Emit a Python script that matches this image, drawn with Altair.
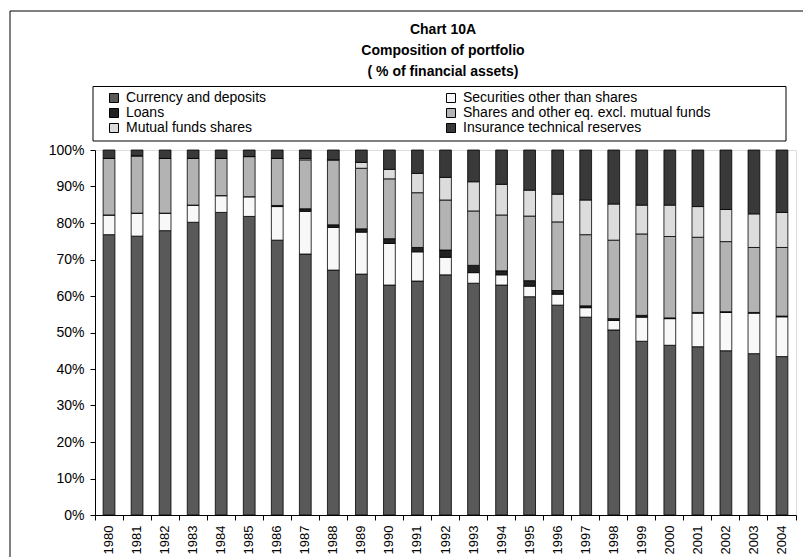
import altair as alt
import pandas as pd

years = [str(y) for y in range(1980, 2005)]
series = [
    "Currency and deposits",
    "Securities other than shares",
    "Loans",
    "Shares and other eq. excl. mutual funds",
    "Mutual funds shares",
    "Insurance technical reserves",
]
currency = [76.8, 76.4, 77.9, 80.2, 82.9, 81.8, 75.3, 71.5, 67.1, 66.0, 63.0, 64.1, 65.8,
            63.5, 63.0, 59.8, 57.5, 54.2, 50.7, 47.6, 46.5, 46.1, 45.0, 44.2, 43.4]
securities = [5.4, 6.3, 4.8, 4.7, 4.6, 5.4, 9.2, 11.7, 11.7, 11.5, 11.4, 8.0, 4.8,
              2.9, 2.8, 2.9, 3.0, 2.6, 2.6, 6.6, 7.3, 9.2, 10.5, 11.1, 10.9]
loans = [0, 0, 0, 0, 0, 0, 0.3, 0.7, 0.7, 0.9, 1.3, 1.2, 2.0,
         2.0, 1.1, 1.5, 1.0, 0.5, 0.5, 0.5, 0.2, 0.2, 0.2, 0.2, 0.2]
shares = [15.5, 15.7, 15.0, 12.8, 10.2, 11.0, 12.9, 13.4, 17.8, 16.6, 16.4, 15.0, 13.7,
          14.9, 15.3, 17.7, 18.8, 19.5, 21.5, 22.3, 22.3, 20.6, 19.2, 17.8, 18.8]
mutual = [0, 0, 0, 0, 0, 0, 0, 0.4, 0, 1.6, 2.6, 5.3, 6.2,
          8.0, 8.4, 7.1, 7.6, 9.5, 9.9, 7.9, 8.6, 8.4, 8.8, 9.2, 9.6]
insurance = [2.3, 1.6, 2.3, 2.3, 2.3, 1.8, 2.3, 2.3, 2.7, 3.4, 5.3, 6.4, 7.5,
             8.7, 9.4, 11.0, 12.1, 13.7, 14.8, 15.1, 15.1, 15.5, 16.3, 17.5, 17.1]
colors = ["#595959", "#f8f8f8", "#222222", "#b3b3b3", "#dcdcdc", "#393939"]
# legend fills column by column: left column Currency / Loans / Mutual funds
legend_order = [0, 2, 4, 1, 3, 5]
y_ticks = [0, 0.1, 0.2, 0.3, 0.4, 0.5, 0.6, 0.7, 0.8, 0.9, 1.0]
title_lines = ["Chart 10A", "Composition of portfolio", "( % of financial assets)"]

values = [currency, securities, loans, shares, mutual, insurance]
rows = []
for i, s in enumerate(series):
    for yr, v in zip(years, values[i]):
        rows.append({"year": yr, "series": s, "idx": i, "value": v})
df = pd.DataFrame(rows)

leg_domain = [series[i] for i in legend_order]
leg_range = [colors[i] for i in legend_order]

FONT = "Liberation Sans"
W, H = 701, 365

bars = alt.Chart(df).mark_bar(
    stroke="black", strokeWidth=0.8, width=alt.RelativeBandSize(0.42)
).encode(
    x=alt.X("year:N", sort=years,
            scale=alt.Scale(paddingInner=0, paddingOuter=0),
            axis=alt.Axis(title=None, labelAngle=270, bandPosition=1, tickExtra=True,
                          tickSize=5, labelPadding=5, labelFontSize=13, labelFont=FONT,
                          labelColor="black", domainColor="black", tickColor="black")),
    y=alt.Y("value:Q", stack="normalize", scale=alt.Scale(domain=[0, 1]),
            axis=alt.Axis(title=None, format=".0%", values=y_ticks, grid=False,
                          tickSize=5, labelPadding=6, labelFontSize=14, labelFont=FONT,
                          labelColor="black", domainColor="black", tickColor="black")),
    color=alt.Color("series:N",
                    scale=alt.Scale(domain=leg_domain, range=leg_range),
                    legend=alt.Legend(title=None, orient="none", legendX=12, legendY=-59,
                                      columns=2, columnPadding=177, rowPadding=1,
                                      symbolType="square", symbolSize=81,
                                      symbolStrokeColor="black", symbolStrokeWidth=1,
                                      symbolOpacity=1, labelOffset=5,
                                      labelFontSize=14, labelFont=FONT, labelColor="black",
                                      labelLimit=500, padding=0)),
    order=alt.Order("idx:Q", sort="ascending"),
)

frame_df = pd.DataFrame({"k": [0]})
legend_box = alt.Chart(frame_df).mark_rect(fill="white", stroke="black", strokeWidth=1).encode(
    x=alt.value(-2), x2=alt.value(691), y=alt.value(-63.5), y2=alt.value(-9)
)
outer = alt.Chart(frame_df).mark_rect(fill=None, stroke="black", strokeWidth=1).encode(
    x=alt.value(-85), x2=alt.value(760), y=alt.value(-139), y2=alt.value(480)
)

title_y = [-120, -99, -78]
titles = [
    alt.Chart(frame_df).mark_text(
        text=t, font=FONT, fontSize=14, fontWeight="bold", align="center",
        baseline="middle", color="black"
    ).encode(x=alt.value(348), y=alt.value(ty))
    for t, ty in zip(title_lines, title_y)
]

chart = alt.layer(outer, legend_box, bars, *titles).properties(
    width=W, height=H,
    autosize=alt.AutoSizeParams(type="none"),
    padding={"left": 95, "top": 150, "right": 7, "bottom": 42},
).configure_view(stroke=None).configure(background="white")

chart.save("out.html", embed_options={"renderer": "svg", "actions": False})
